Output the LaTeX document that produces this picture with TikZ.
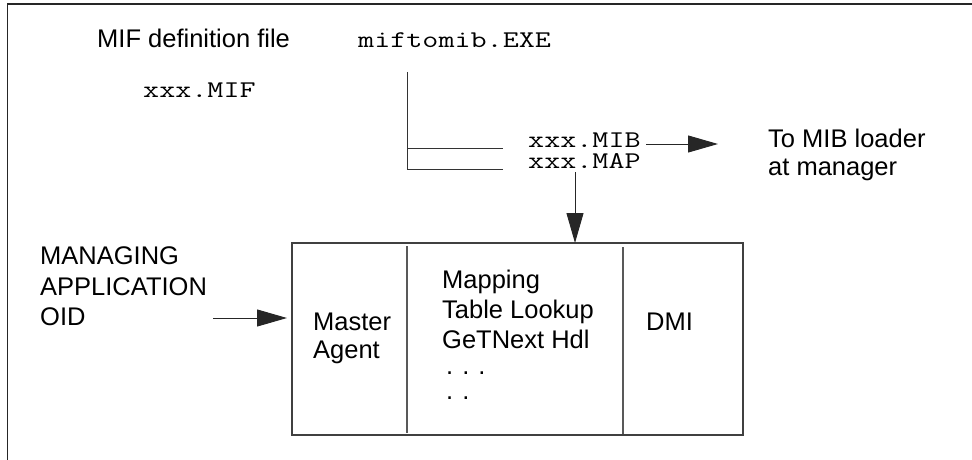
\documentclass[tikz,border=0pt]{standalone}
\usepackage{fontspec}
\setsansfont{Liberation Sans}
\setmonofont[FakeStretch=1.3]{Latin Modern Mono}
\usetikzlibrary{arrows.meta}
\tikzset{
  lbl/.style={inner sep=0pt, anchor=base west, font=\sffamily\fontsize{25.5}{30}\selectfont},
  mono/.style={inner sep=0pt, anchor=base west, font=\ttfamily\fontsize{24}{26}\selectfont},
  frameline/.style={line width=1.4pt, draw=black!85},
  boxline/.style={line width=1.1pt, draw=black!75},
  divline/.style={line width=1.4pt, draw=black!65},
  treeline/.style={line width=1pt, draw=black!80},
  arr/.style={line width=1pt, draw=black!85, -{Triangle[length=30pt,width=17pt]}},
}
\begin{document}
\begin{tikzpicture}[x=1pt,y=-1pt]
\useasboundingbox (0,0) rectangle (972,460);
% outer frame (open on right and bottom)
\draw[frameline] (7.5,470) -- (7.5,4) -- (980,4);

% texts top
\node[lbl] (miff) at (97,48) {MIF definition file};
\node[mono] (exe) at (358,48) {miftomib.EXE};
\node[mono] (mif) at (143,97) {xxx.MIF};
\node[mono] (mib) at (528,147) {xxx.MIB};
\node[mono] (map) at (528,168) {xxx.MAP};
\node[lbl] (load1) at (768,147) {To MIB loader};
\node[lbl] (load2) at (768,175) {at manager};

% tree lines
\coordinate (t0) at (407,72);
\coordinate (t1) at (407,148);
\coordinate (t2) at (407,169);
\coordinate (e1) at (503,148);
\coordinate (e2) at (503,169);
\draw[treeline] (t0) -- (t2);
\draw[treeline] (t1) -- (e1);
\draw[treeline] (t2) -- (e2);

% box
\coordinate (bx1) at (292,243);
\coordinate (bx2) at (743,435);
\draw[boxline] (bx1) rectangle (bx2);
\coordinate (d1a) at (407,246);
\coordinate (d1b) at (407,433);
\coordinate (d2a) at (623,247);
\coordinate (d2b) at (623,434);
\draw[divline] (d1a) -- (d1b);
\draw[divline] (d2a) -- (d2b);

\node[lbl] (ma1) at (313,330) {Master};
\node[lbl] (ma2) at (313,358) {Agent};
\node[lbl] (mp1) at (442,288) {Mapping};
\node[lbl] (mp2) at (442,318) {Table Lookup};
\node[lbl] (mp3) at (442,348) {GeTNext Hdl};
\node[lbl] (mp4) at (446,374) {.\hspace{9pt}.\hspace{9pt}.};
\node[lbl] (mp5) at (446,399) {.\hspace{9pt}.};
\node[lbl] (dmi) at (646,330) {DMI};

\node[lbl] (mg1) at (40,264) {MANAGING};
\node[lbl] (mg2) at (40,295) {APPLICATION};
\node[lbl] (mg3) at (40,325) {OID};

% arrows
\coordinate (a1s) at (646,144);
\coordinate (a1e) at (718,144);
\draw[arr] (a1s) -- (a1e);
\coordinate (a2s) at (575,172);
\coordinate (a2e) at (575,243);
\draw[arr] (a2s) -- (a2e);
\coordinate (a3s) at (213,318);
\coordinate (a3e) at (287,318);
\draw[arr] (a3s) -- (a3e);
\end{tikzpicture}
\end{document}
